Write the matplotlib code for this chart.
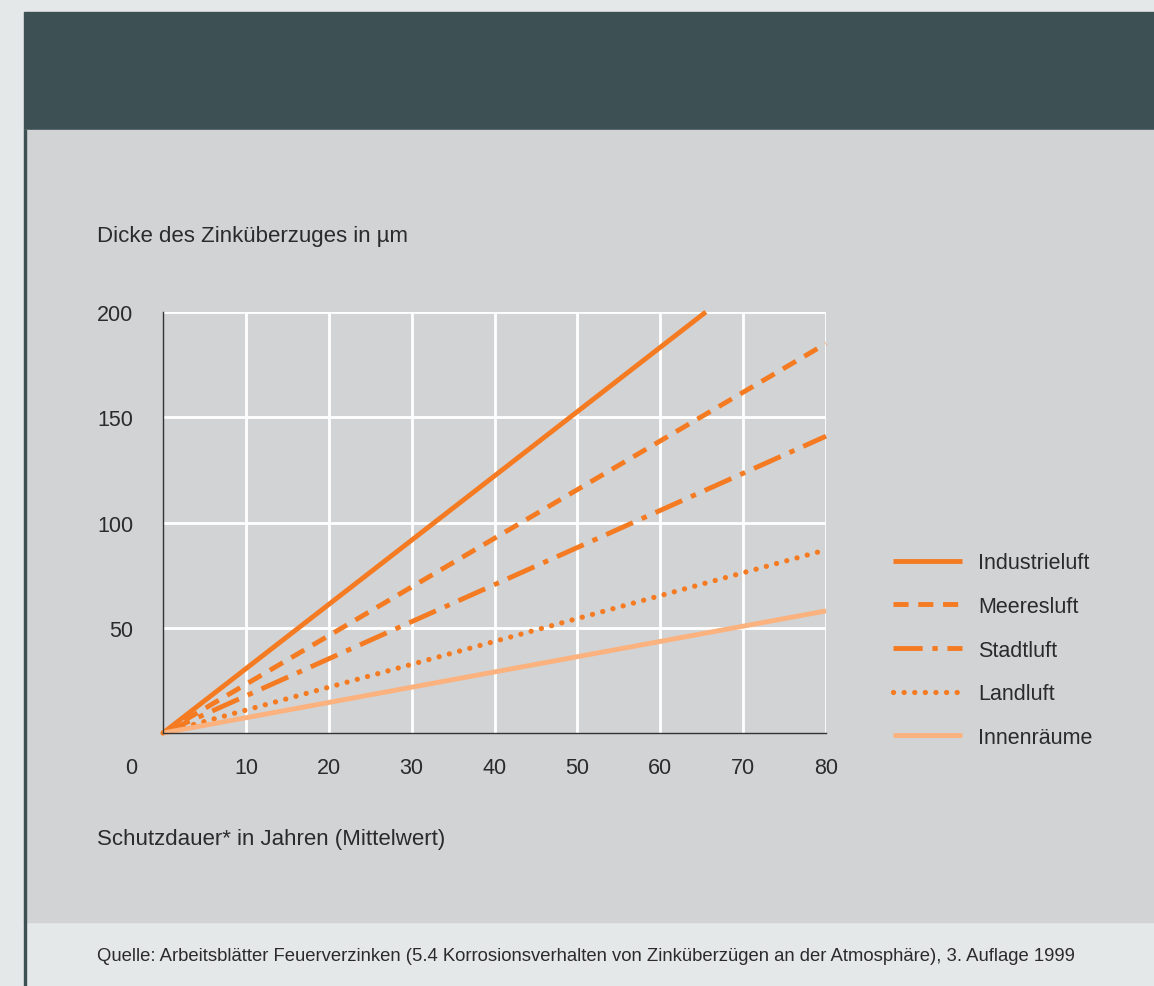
import matplotlib
matplotlib.use('Agg')
import matplotlib.pyplot as plt
from matplotlib.patches import Rectangle

plt.rcParams['font.family'] = ['Liberation Sans', 'DejaVu Sans']

W, H = 1154, 987

years = [0, 80]
industrie_x = [0, 65.5]
industrie = [0, 200]
meer = [0, 185]
stadt = [0, 141]
land = [0, 87]
innen = [0, 58]

labels = ['Industrieluft', 'Meeresluft', 'Stadtluft', 'Landluft', 'Innenräume']
xticks = [10, 20, 30, 40, 50, 60, 70, 80]
yticks = [50, 100, 150, 200]

orange = '#f47b22'
light_orange = '#fbb27e'
txt = '#2b2b2b'
fs = 15.5

fig = plt.figure(figsize=(W/100, H/100), dpi=100)
fig.patch.set_facecolor('#e5e8e9')

def px_rect(x0, y0, x1, y1, color):
    fig.patches.append(Rectangle((x0/W, 1-y1/H), (x1-x0)/W, (y1-y0)/H,
                                 transform=fig.transFigure, color=color, zorder=-5))

px_rect(24, 12.5, W, 131, '#3d5054')
px_rect(24, 131, W, 923, '#d2d3d5')
px_rect(24, 131, 25.5, H, '#3d5054')

ax = fig.add_axes([163/W, 1-734/H, (826-163)/W, (734-313)/H])
ax.set_facecolor('#d2d3d5')
ax.set_xlim(0, 80)
ax.set_ylim(0, 200)
ax.set_xticks(xticks)
ax.set_yticks(yticks)
ax.grid(True, color='white', lw=2)
ax.set_axisbelow(True)
for s in ['top', 'right']:
    ax.spines[s].set_visible(False)
for s in ['left', 'bottom']:
    ax.spines[s].set_color('#333333')
    ax.spines[s].set_linewidth(1)
    ax.spines[s].set_zorder(5)
ax.tick_params(length=0, labelsize=fs, labelcolor=txt)
ax.tick_params(axis='x', pad=17)
ax.tick_params(axis='y', pad=21.5)
# corner label for the origin
ax.annotate('0', xy=(0, 0), xycoords='axes fraction', xytext=(-23, -25),
            textcoords='offset points', fontsize=fs, color=txt,
            ha='center', va='center', annotation_clip=False)

lw = 3.5
h1, = ax.plot(industrie_x, industrie, color=orange, lw=lw, solid_capstyle='butt', clip_on=False)
h2, = ax.plot(years, meer, color=orange, lw=lw, ls=(0, (3.1, 2.0)), dash_capstyle='butt', clip_on=False)
h3, = ax.plot(years, stadt, color=orange, lw=lw, ls=(0, (6.0, 2.0, 1.1, 2.0)), dash_capstyle='butt', clip_on=False)
h4, = ax.plot(years, land, color=orange, lw=3.8, ls=(0, (0.01, 2.0)), dash_capstyle='round', clip_on=False)
h5, = ax.plot(years, innen, color=light_orange, lw=lw, solid_capstyle='butt', clip_on=False)

fig.legend([h1, h2, h3, h4, h5], labels, loc='upper left',
           bbox_to_anchor=(874/W, 1-534/H), frameon=False, fontsize=fs,
           handlelength=3.2, handletextpad=0.75, labelspacing=1.05, labelcolor=txt)

fig.text(97/W, 1-237/H, 'Dicke des Zinküberzuges in µm', fontsize=16, color=txt, va='center')
fig.text(97/W, 1-840/H, 'Schutzdauer* in Jahren (Mittelwert)', fontsize=16, color=txt, va='center')
fig.text(586/W, 1-957/H,
         'Quelle: Arbeitsblätter Feuerverzinken (5.4 Korrosionsverhalten von Zinküberzügen an der Atmosphäre), 3. Auflage 1999',
         fontsize=13.3, color=txt, va='center', ha='center')

fig.savefig('out.png', dpi=100, facecolor=fig.get_facecolor())
